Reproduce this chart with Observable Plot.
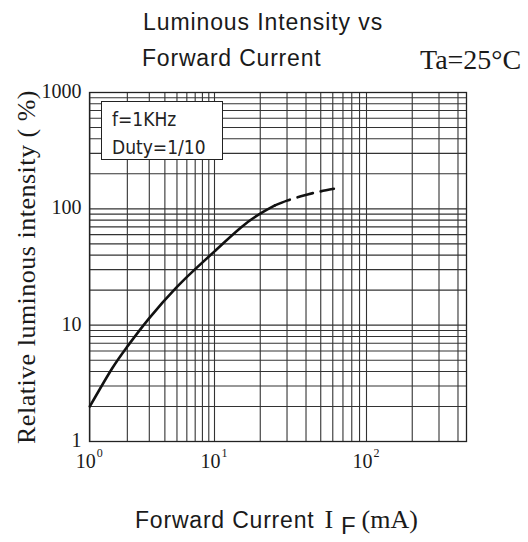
<!DOCTYPE html>
<html><head><meta charset="utf-8">
<script src="https://cdn.jsdelivr.net/npm/d3@7"></script>
<script src="https://cdn.jsdelivr.net/npm/@observablehq/plot@0.6"></script>
<style>
body{margin:0;background:#fff;}
#wrap{position:relative;width:528px;height:542px;overflow:hidden;}
#wrap svg{position:absolute;left:0;top:0;}
.abs{position:absolute;white-space:nowrap;line-height:1;}
.sans{font-family:"Liberation Sans",Arial,sans-serif;color:#1a1a1a;}
.serif{font-family:"Liberation Serif","Times New Roman",serif;color:#1a1a1a;}
#legend{position:absolute;left:101px;top:101px;width:120px;height:57px;background:#fff;border:1px solid #222;
  font-family:"DejaVu Sans Condensed","Liberation Sans Narrow",sans-serif;font-weight:300;font-size:19px;color:#222;}
#legend div{position:absolute;left:10px;}
</style></head><body><div id="wrap"></div>
<script>
// curve (solid part)
const solidX = [1, 1.5, 2, 3, 5, 7, 10, 15, 20, 25];
const solidY = [2, 4.2, 6.55, 11.5, 21.3, 30.3, 43.1, 69.5, 91, 107];
// curve (dashed part)
const dashX = [25, 30, 37, 46, 61];
const dashY = [107, 117.6, 128, 138, 148.6];
// grid values
const xGrid = [1,2,3,4,5,6,7,8,9,10,20,30,40,50,60,70,80,90,100,200,300,400];
const yGrid = [1,2,3,4,5,6,7,8,9,10,20,30,40,50,60,70,80,90,100,200,300,400,500,600,700,800,900,1000];
// tick labels
const yTicks = [1, 10, 100, 1000];
const xTicks = [1, 10, 100];
const xTickBase = ["10", "10", "10"];
const xTickExp = ["0", "1", "2"];
// legend text
const legendLines = ["f=1KHz", "Duty=1/10"];

const solid = solidX.map((x, i) => ({x, y: solidY[i]}));
const dashed = dashX.map((x, i) => ({x, y: dashY[i]}));

const serif = "Liberation Serif, Times New Roman, serif";
const gridColor = "#333";

const chart = Plot.plot({
  width: 528,
  height: 542,
  marginTop: 92,
  marginBottom: 101,
  marginLeft: 89,
  marginRight: 62,
  x: {type: "log", domain: [1, 10, 100, 453], range: [89.3, 214, 366, 465.7], axis: null},
  y: {type: "log", domain: [1, 1000], axis: null},
  marks: [
    Plot.ruleX(xGrid, {x: d => d, stroke: gridColor, strokeWidth: 1.1, strokeOpacity: 1}),
    Plot.ruleY(yGrid, {y: d => d, stroke: gridColor, strokeWidth: 1.1, strokeOpacity: 1}),
    Plot.frame({stroke: "#222", strokeWidth: 1.3}),
    Plot.line(solid, {x: "x", y: "y", curve: "natural", stroke: "#111", strokeWidth: 2.6}),
    Plot.line(dashed, {x: "x", y: "y", curve: "natural", stroke: "#111", strokeWidth: 2.6, strokeDasharray: "16,8"}),
    Plot.text(yTicks, {y: d => d, frameAnchor: "left", text: d => String(d), textAnchor: "end", dx: -8, dy: -1,
      fontFamily: serif, fontSize: 20, fill: "#1a1a1a"}),
    Plot.text(xTicks, {x: d => d, frameAnchor: "bottom", text: (d, i) => xTickBase[i], textAnchor: "end", dx: 6, dy: 26,
      fontFamily: serif, fontSize: 20, fill: "#1a1a1a"}),
    Plot.text(xTicks, {x: d => d, frameAnchor: "bottom", text: (d, i) => xTickExp[i], textAnchor: "start", dx: 7, dy: 15,
      fontFamily: serif, fontSize: 12, fill: "#1a1a1a"})
  ]
});

const wrap = document.getElementById("wrap");
wrap.appendChild(chart);

function addText(html, cls, style) {
  const d = document.createElement("div");
  d.className = "abs " + cls;
  d.innerHTML = html;
  Object.assign(d.style, style);
  wrap.appendChild(d);
  return d;
}
addText("Luminous Intensity vs", "sans", {left: "143px", top: "11px", fontSize: "23px", letterSpacing: "0.9px"});
addText("Forward Current", "sans", {left: "142px", top: "47px", fontSize: "23px", letterSpacing: "0.8px"});
addText("Ta=25°C", "serif", {left: "420px", top: "46px", fontSize: "28px"});
addText('Forward Current<span class="serif" style="font-size:26px;margin-left:10px">I</span><span class="sans" style="font-size:24px;position:relative;top:6px;margin-left:7px;letter-spacing:0">F</span><span class="serif" style="font-size:26px;margin-left:6px;letter-spacing:0">(mA)</span>',
  "sans", {left: "135px", top: "507px", fontSize: "23px", letterSpacing: "0.8px"});
addText("Relative luminous intensity ( %)", "serif", {left: "27px", top: "267px", fontSize: "26px", letterSpacing: "0.5px",
  transform: "translate(-50%,-50%) rotate(-90deg)"});

const lg = document.createElement("div");
lg.id = "legend";
legendLines.forEach((t, i) => {
  const d = document.createElement("div");
  d.textContent = t;
  d.style.top = (6 + i * 28) + "px";
  lg.appendChild(d);
});
wrap.appendChild(lg);
</script>
</body></html>
